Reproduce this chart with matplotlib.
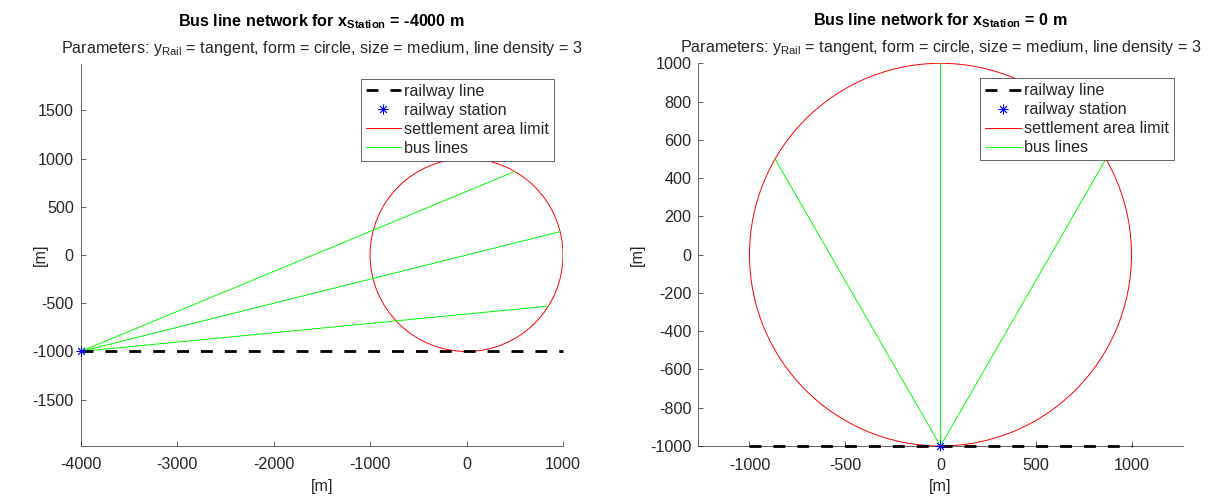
import matplotlib
matplotlib.use('Agg')
import matplotlib.pyplot as plt
from matplotlib.patches import Circle
from matplotlib.lines import Line2D

# scenario data
station_x = [-4000, 0]
station_y = -1000
rail_x = [[-4000, 1000], [-1000, 1000]]
area_radius = 1000
bus_end_x = [[500, 970, 848], [-866, 0, 866]]
bus_end_y = [[866, 242, -530], [500, 1000, 500]]
x_ticks = [[-4000, -3000, -2000, -1000, 0, 1000], [-1000, -500, 0, 500, 1000]]
y_ticks = [[-1500, -1000, -500, 0, 500, 1000, 1500], list(range(-1000, 1001, 200))]
x_lims = [(-4000, 1000), (-1268, 1268)]
y_lims = [(-1977, 1980), (-1000, 1000)]
subtitle = 'Parameters: $\\mathrm{y_{Rail}}$ = tangent, form = circle, size = medium, line density = 3'

plt.rcParams['font.family'] = ['Liberation Sans', 'DejaVu Sans']
plt.rcParams['mathtext.fontset'] = 'custom'
plt.rcParams['mathtext.rm'] = 'Liberation Sans'
plt.rcParams['mathtext.bf'] = 'Liberation Sans:bold'
plt.rcParams['mathtext.it'] = 'Liberation Sans:italic'
plt.rcParams['axes.unicode_minus'] = False

fs = 11.6
txt = '#262626'
rail_style = dict(color='k', lw=2, ls=(0, (4.3, 4.3)))
station_style = dict(ls='none', marker=(8, 2, 0), color='b', ms=7, mew=0.6)

fig = plt.figure(figsize=(12.09, 4.98), dpi=100)
rects = [[0.06675, 0.10502, 0.39892, 0.76647], [0.57758, 0.10442, 0.40066, 0.76847]]
label_x = [-0.084, -0.1265]

for i in range(2):
    ax = fig.add_axes(rects[i])
    sx = station_x[i]
    rail, = ax.plot(rail_x[i], [station_y, station_y], clip_on=False, zorder=3, **rail_style)
    ax.add_patch(Circle((0, 0), area_radius, fill=False, ec='r', lw=0.7))
    bus = None
    for ex, ey in zip(bus_end_x[i], bus_end_y[i]):
        bus, = ax.plot([sx, ex], [station_y, ey], color='#00ff00', lw=0.7)
    st, = ax.plot([sx], [station_y], clip_on=False, zorder=4, **station_style)

    ax.set_xlim(*x_lims[i])
    ax.set_ylim(*y_lims[i])
    ax.set_xticks(x_ticks[i])
    ax.set_yticks(y_ticks[i])
    for s in ['top', 'right']:
        ax.spines[s].set_visible(False)
    for s in ['left', 'bottom']:
        ax.spines[s].set_color(txt)
        ax.spines[s].set_linewidth(0.5)
    ax.tick_params(direction='in', length=3.5, width=0.5, colors=txt, labelsize=fs)
    ax.tick_params(axis='x', pad=8.3)
    ax.tick_params(axis='y', pad=5.0)

    ax.set_xlabel('[m]', fontsize=fs, color=txt)
    ax.xaxis.set_label_coords(0.5, -0.107)
    ax.xaxis.label.set_va('center')
    ax.set_ylabel('[m]', fontsize=fs, color=txt)
    ax.yaxis.set_label_coords(label_x[i], 0.5)
    ax.yaxis.label.set_va('center')

    ax.annotate('Bus line network for $\\mathbf{x_{Station}}$ = %d m' % sx,
                xy=(0.5, 1), xycoords='axes fraction', xytext=(0, 38),
                textcoords='offset pixels', ha='center', va='baseline',
                fontsize=fs, fontweight='bold', color='k')
    ax.annotate(subtitle, xy=(0.5, 1), xycoords='axes fraction', xytext=(0, 11),
                textcoords='offset pixels', ha='center', va='baseline',
                fontsize=fs, color=txt)

    circ_proxy = Line2D([], [], color='r', lw=0.7)
    leg = ax.legend([rail, st, circ_proxy, bus],
                    ['railway line', 'railway station', 'settlement area limit', 'bus lines'],
                    loc='upper right', bbox_to_anchor=(1 - 9 / 482, 1 - 15 / 382),
                    borderaxespad=0, fontsize=fs, handlelength=2.2, handletextpad=0.2,
                    labelspacing=0.25, borderpad=0.3, fancybox=False, framealpha=1)
    leg.get_frame().set_edgecolor(txt)
    leg.get_frame().set_linewidth(0.5)
    for t in leg.get_texts():
        t.set_color(txt)

fig.savefig('out.png', dpi=100)
